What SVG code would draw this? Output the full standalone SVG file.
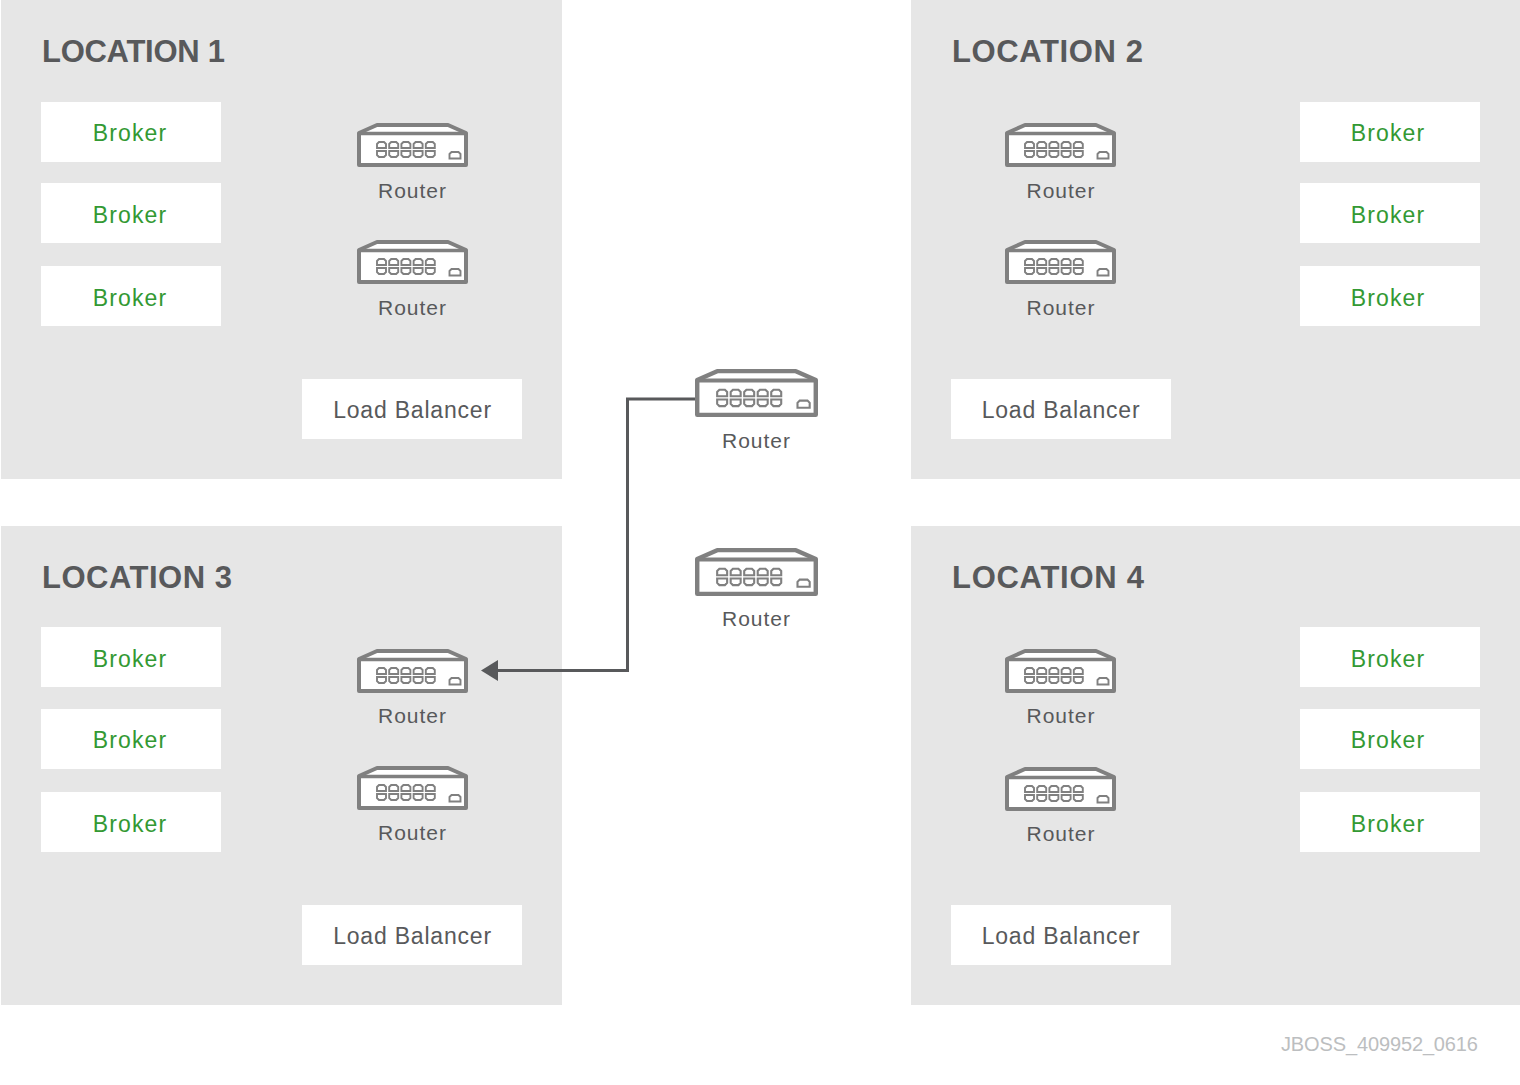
<svg xmlns="http://www.w3.org/2000/svg" xmlns:xlink="http://www.w3.org/1999/xlink" width="1520" height="1085" viewBox="0 0 1520 1085">
<style>
text{font-family:"Liberation Sans",Arial,sans-serif;fill:#58595b}
.loc{fill:#e6e6e6}
.box{fill:#fff}
.title{font-size:31px;font-weight:700}
.broker{font-size:23px;fill:#339933;text-anchor:middle;letter-spacing:1.1px}
.lb{font-size:23px;text-anchor:middle;letter-spacing:.8px}
.rl{font-size:21px;text-anchor:middle;letter-spacing:1px}
.r{fill:#fff;stroke:#808080}
.p{fill:none;stroke:#808080;stroke-width:1.9}
.wire{fill:none;stroke:#58595b;stroke-width:3}
.code{font-size:20px;fill:#bcbec0;letter-spacing:-.13px}
</style>
<defs>
<g id="port"><path class="p" d="M1 7.500V3.500L3 1.500H8L10 3.500V7.500Z"/><path class="p" d="M1 10.500H10V14.500L8 16.500H3L1 14.500Z"/></g>
<symbol id="router" viewBox="0 0 111 44" width="111" height="44" preserveAspectRatio="none" overflow="visible">
<path class="r" stroke-width="4" stroke-linejoin="round" d="M2 42V10L20 2H91L109 10V42Z"/>
<path class="r" stroke-width="3.600" d="M2 10.500H109"/>
<use href="#port" x="19" y="17.500"/><use href="#port" x="31.200" y="17.500"/><use href="#port" x="43.400" y="17.500"/><use href="#port" x="55.600" y="17.500"/><use href="#port" x="67.800" y="17.500"/>
<path class="p" d="M92.500 35.500V31L94.500 29H101.500L103.500 31V35.500Z"/>
</symbol>
</defs>

<g id="location-1"><rect class="loc" x="1" y="0" width="561" height="479"/><text class="title" x="42" y="62" textLength="183">LOCATION 1</text></g>
<g id="location-2"><rect class="loc" x="911" y="0" width="609" height="479"/><text class="title" x="952" y="62" textLength="191">LOCATION 2</text></g>
<g id="location-3"><rect class="loc" x="1" y="526" width="561" height="479"/><text class="title" x="42" y="587.500" textLength="190">LOCATION 3</text></g>
<g id="location-4"><rect class="loc" x="911" y="526" width="609" height="479"/><text class="title" x="952" y="587.500" textLength="192">LOCATION 4</text></g>

<g id="l1-broker-1"><rect class="box" x="41" y="102" width="180" height="60"/><text class="broker" x="130" y="141">Broker</text></g>
<g id="l1-broker-2"><rect class="box" x="41" y="183" width="180" height="60"/><text class="broker" x="130" y="222.500">Broker</text></g>
<g id="l1-broker-3"><rect class="box" x="41" y="266" width="180" height="60"/><text class="broker" x="130" y="306">Broker</text></g>
<g id="l1-router-1"><use href="#router" x="357" y="123"/><text class="rl" x="412.500" y="198">Router</text></g>
<g id="l1-router-2"><use href="#router" x="357" y="240"/><text class="rl" x="412.500" y="315">Router</text></g>
<g id="l1-lb"><rect class="box" x="302" y="379" width="220" height="60"/><text class="lb" x="412.500" y="417.500">Load Balancer</text></g>

<g id="l2-broker-1"><rect class="box" x="1300" y="102" width="180" height="60"/><text class="broker" x="1388" y="141">Broker</text></g>
<g id="l2-broker-2"><rect class="box" x="1300" y="183" width="180" height="60"/><text class="broker" x="1388" y="222.500">Broker</text></g>
<g id="l2-broker-3"><rect class="box" x="1300" y="266" width="180" height="60"/><text class="broker" x="1388" y="306">Broker</text></g>
<g id="l2-router-1"><use href="#router" x="1005" y="123"/><text class="rl" x="1061" y="198">Router</text></g>
<g id="l2-router-2"><use href="#router" x="1005" y="240"/><text class="rl" x="1061" y="315">Router</text></g>
<g id="l2-lb"><rect class="box" x="951" y="379" width="220" height="60"/><text class="lb" x="1061" y="417.500">Load Balancer</text></g>

<g id="l3-broker-1"><rect class="box" x="41" y="627" width="180" height="60"/><text class="broker" x="130" y="667">Broker</text></g>
<g id="l3-broker-2"><rect class="box" x="41" y="709" width="180" height="60"/><text class="broker" x="130" y="748">Broker</text></g>
<g id="l3-broker-3"><rect class="box" x="41" y="792" width="180" height="60"/><text class="broker" x="130" y="832">Broker</text></g>
<g id="l3-router-1"><use href="#router" x="357" y="649"/><text class="rl" x="412.500" y="723">Router</text></g>
<g id="l3-router-2"><use href="#router" x="357" y="766"/><text class="rl" x="412.500" y="840">Router</text></g>
<g id="l3-lb"><rect class="box" x="302" y="905" width="220" height="60"/><text class="lb" x="412.500" y="943.500">Load Balancer</text></g>

<g id="l4-broker-1"><rect class="box" x="1300" y="627" width="180" height="60"/><text class="broker" x="1388" y="667">Broker</text></g>
<g id="l4-broker-2"><rect class="box" x="1300" y="709" width="180" height="60"/><text class="broker" x="1388" y="748">Broker</text></g>
<g id="l4-broker-3"><rect class="box" x="1300" y="792" width="180" height="60"/><text class="broker" x="1388" y="832">Broker</text></g>
<g id="l4-router-1"><use href="#router" x="1005" y="649"/><text class="rl" x="1061" y="723">Router</text></g>
<g id="l4-router-2"><use href="#router" x="1005" y="767"/><text class="rl" x="1061" y="841">Router</text></g>
<g id="l4-lb"><rect class="box" x="951" y="905" width="220" height="60"/><text class="lb" x="1061" y="943.500">Load Balancer</text></g>

<g id="center-router-1"><use href="#router" x="695" y="369" width="123" height="48"/><text class="rl" x="756.500" y="448">Router</text></g>
<g id="center-router-2"><use href="#router" x="695" y="548" width="123" height="48"/><text class="rl" x="756.500" y="626">Router</text></g>

<g id="connectors">
<path class="wire" d="M695 399H627.500V670.500H495"/>
<path d="M481 670.500L498 660V681Z" fill="#58595b"/>
</g>
<text id="code" class="code" x="1281" y="1051">JBOSS_409952_0616</text>
</svg>
